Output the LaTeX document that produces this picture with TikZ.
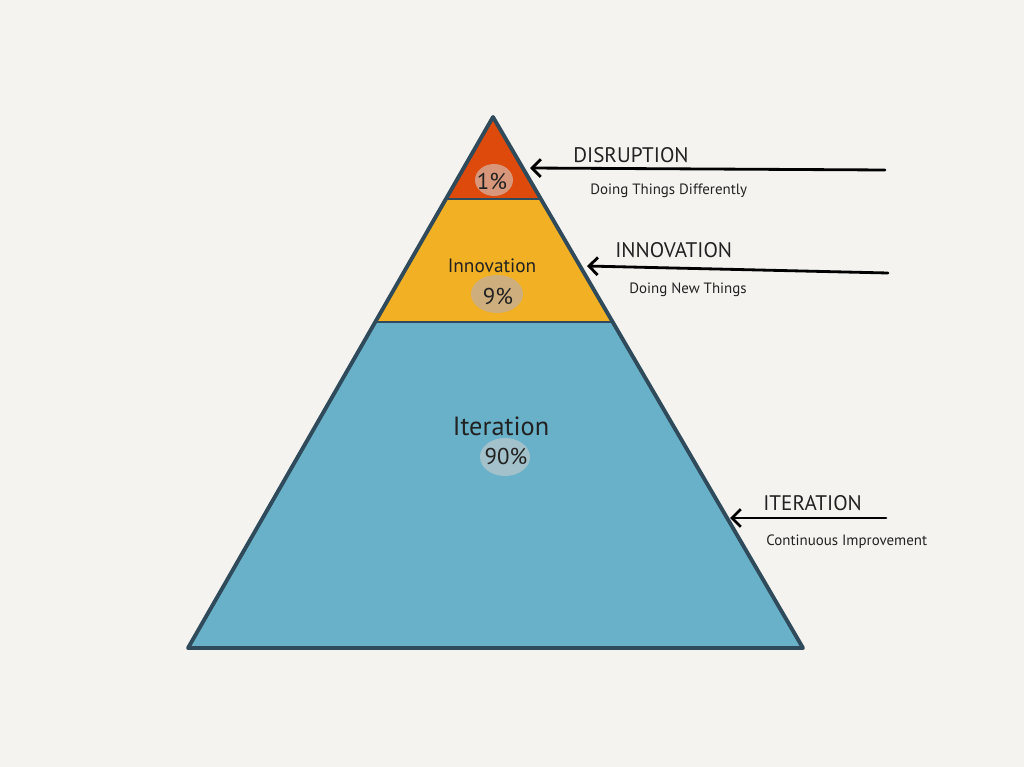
\documentclass[tikz,border=0pt]{standalone}
\usepackage{fontspec}
\setmainfont{PT Sans}
\usetikzlibrary{arrows.meta,positioning}

\definecolor{paper}{HTML}{F4F3F0}
\definecolor{slate}{HTML}{2F4A5A}
\definecolor{ink}{HTML}{222222}
\definecolor{toptier}{HTML}{DD4A0B}
\definecolor{midtier}{HTML}{F2B024}
\definecolor{basetier}{HTML}{69B1C8}
\definecolor{topblob}{HTML}{D8967A}
\definecolor{midblob}{HTML}{CFAE7E}
\definecolor{baseblob}{HTML}{A2C1CB}

\begin{document}
\begin{tikzpicture}[x = 0.02cm, y = -0.02cm,
    outline/.style = {draw = slate, line width = 2.2pt, line join = round},
    divider/.style = {draw = slate, line width = 1.6pt},
    pointer/.style = {draw = black, line width = 1.6pt, line cap = round,
        {Straight Barb[length = 5pt, width = 10pt, line width = 1.6pt]}-},
    heading/.style = {font = \fontsize{12}{14}\selectfont, text = ink,
        anchor = base west, inner sep = 0pt},
    note/.style = {font = \fontsize{8.5}{10}\selectfont, text = ink,
        anchor = base west, inner sep = 0pt},
    tier/.style = {font = \fontsize{11}{13}\selectfont, text = ink, inner sep = 0pt},
    share/.style = {font = \fontsize{13}{15}\selectfont, text = ink, inner sep = 0pt}]

    % paper
    \fill[paper] (0,0) rectangle (1024,767);

    % pyramid corners
    \coordinate (apex) at (493,117);
    \coordinate (baseL) at (188,648);
    \coordinate (baseR) at (803,648);
    \coordinate (topL) at (446,199);
    \coordinate (topR) at (541,199);
    \coordinate (midL) at (375,322);
    \coordinate (midR) at (613,322);

    % tiers
    \fill[basetier] (midL) -- (midR) -- (baseR) -- (baseL) -- cycle;
    \fill[midtier] (topL) -- (topR) -- (midR) -- (midL) -- cycle;
    \fill[toptier] (apex) -- (topR) -- (topL) -- cycle;
    \draw[divider] (topL) -- (topR);
    \draw[divider] (midL) -- (midR);
    \draw[outline] (apex) -- (baseR) -- (baseL) -- cycle;

    % blobs behind the shares
    \fill[topblob] (494,180) ellipse [x radius = 19, y radius = 16];
    \fill[midblob] (497,294) ellipse [x radius = 26, y radius = 19];
    \fill[baseblob] (505,457) ellipse [x radius = 25, y radius = 19];

    % labels inside
    \node[share] (top share) at (492,181) {1\%};
    \node[tier] (mid name) at (492,266) {Innovation};
    \node[share] (mid share) at (498,296) {9\%};
    \node[tier, font = \fontsize{15}{17}\selectfont] (base name) at (501,426) {Iteration};
    \node[share] (base share) at (506,456) {90\%};

    % side notes
    \node[heading] (dis head) at (573,162) {DISRUPTION};
    \node[note] (dis note) at (590,194) {Doing Things Differently};
    \node[heading] (inn head) at (615,257) {INNOVATION};
    \node[note] (inn note) at (629,293) {Doing New Things};
    \node[heading] (ite head) at (763,510) {ITERATION};
    \node[note] (ite note) at (766,545) {Continuous Improvement};

    % pointers
    \coordinate (dis tip) at (530,168);
    \coordinate (dis tail) at (885,170);
    \coordinate (inn tip) at (587,266);
    \coordinate (inn tail) at (888,273);
    \coordinate (ite tip) at (730,518);
    \coordinate (ite tail) at (886,518);
    \draw[pointer] (dis tip) -- (dis tail);
    \draw[pointer] (inn tip) -- (inn tail);
    \draw[pointer] (ite tip) -- (ite tail);
\end{tikzpicture}
\end{document}
